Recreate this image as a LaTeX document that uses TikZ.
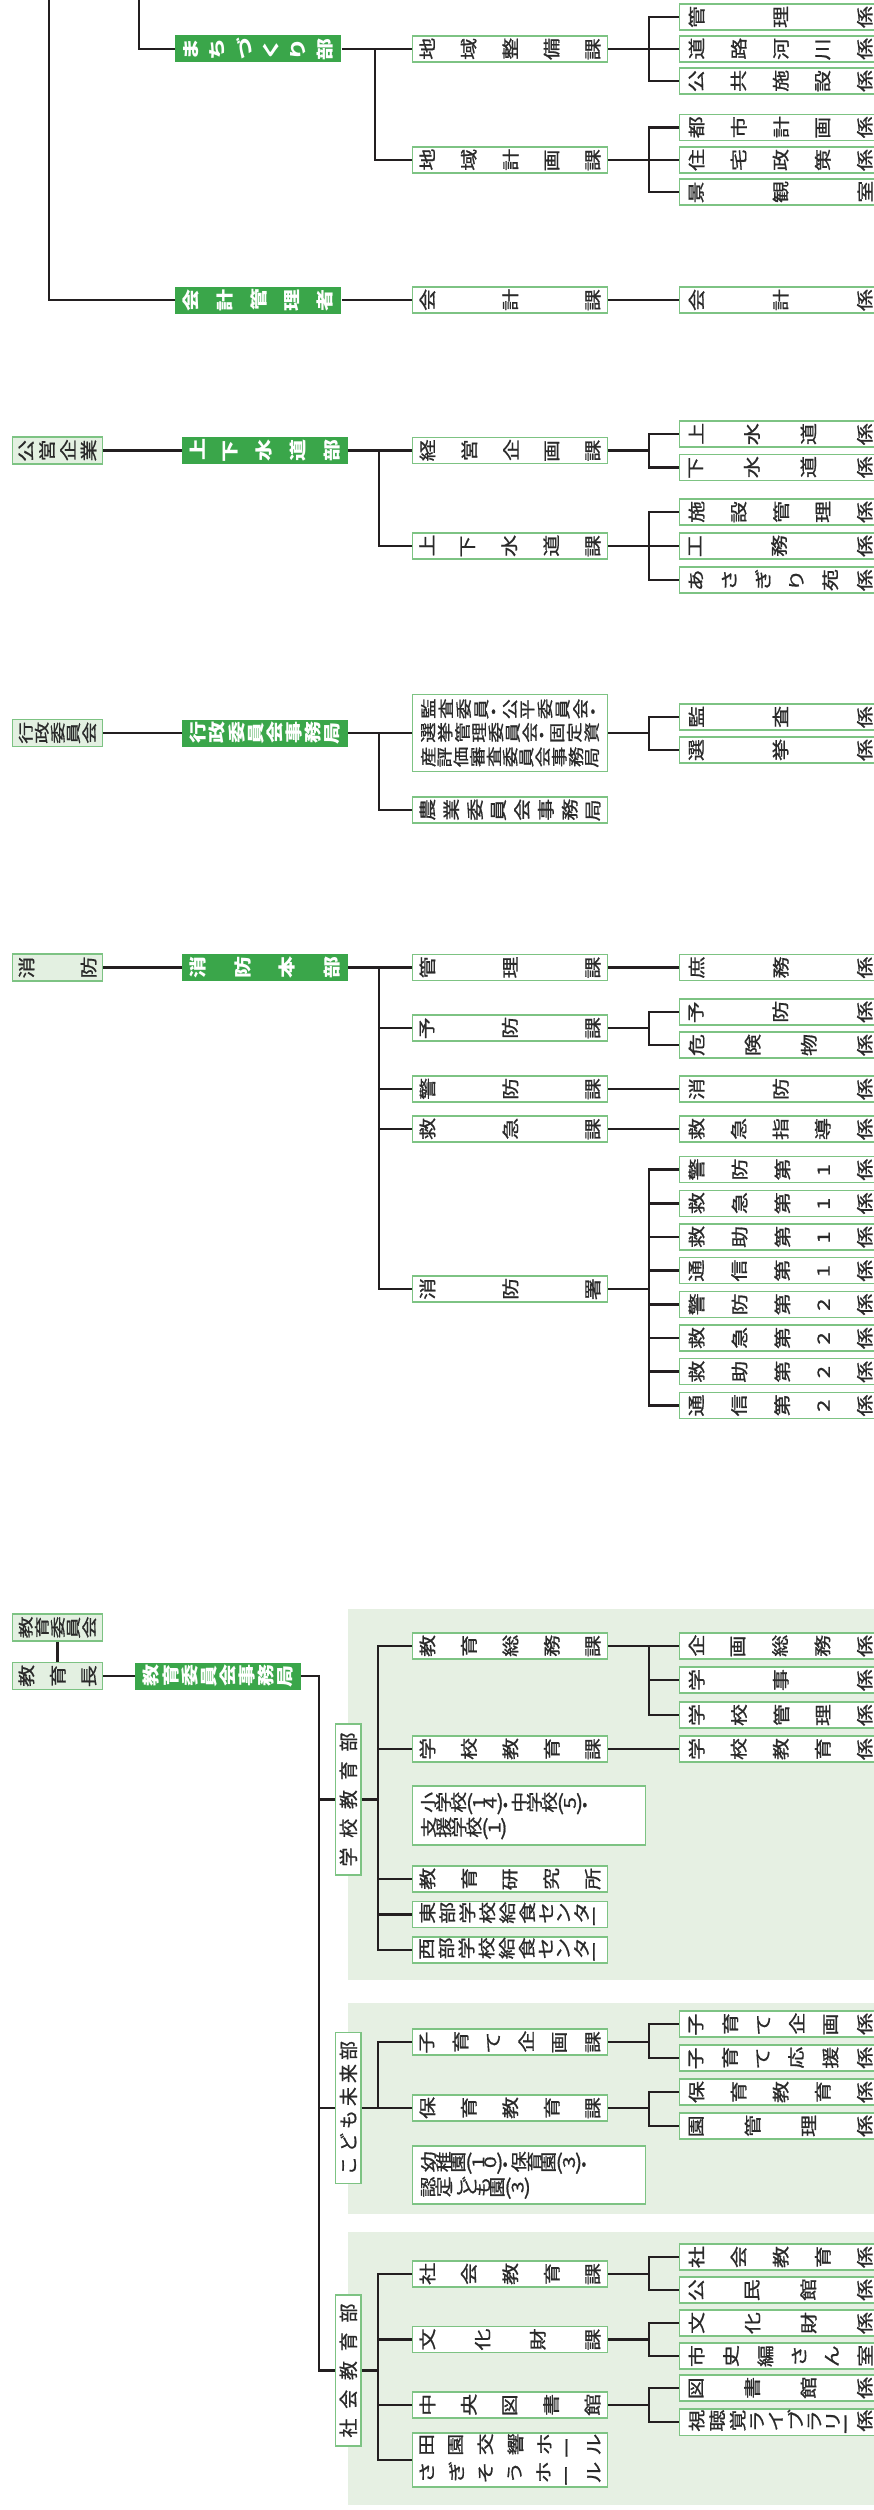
\documentclass[tikz,border=0pt]{standalone}
\usepackage{fontspec}
\usepackage{graphicx}
\setmainfont{Noto Sans CJK JP}
\newfontfamily\jpmed{Noto Sans CJK JP}[FakeBold=0.8]
\definecolor{linec}{HTML}{231F20}
\definecolor{boxg}{HTML}{7DC383}
\definecolor{deptg}{HTML}{3AA64A}
\definecolor{lightg}{HTML}{E3F0E1}
\definecolor{panelg}{HTML}{E6F0E3}
\definecolor{txtc}{HTML}{2A2A2A}
\ExplSyntaxOn
\bool_new:N \l__rs_first_bool
\cs_new_protected:Npn \__rs_glyph:n #1
  { \tl_if_in:nnTF { () } {#1} {#1} { \scalebox{0.78}[1]{\rotatebox[origin=c]{90}{#1}} } }
\cs_new_protected:Npn \__rs_spread:nnN #1 #2 #3
  {
    \makebox[#1][s]
      {
        \bool_set_true:N \l__rs_first_bool
        \tl_map_inline:nn {#2}
          {
            \bool_if:NF \l__rs_first_bool { \hfill }
            \bool_set_false:N \l__rs_first_bool
            #3 {##1}
          }
      }
  }
\NewDocumentCommand \sptext { m m } { \__rs_spread:nnN {#1} {#2} \__rs_glyph:n }
\NewDocumentCommand \spup { m m } { \__rs_spread:nnN {#1} {#2} \use:n }
\NewDocumentCommand \rtext { m } { \tl_map_inline:nn {#1} { \__rs_glyph:n {##1} } }
\ExplSyntaxOff
\newcommand{\katx}[1]{\sptext{181pt}{#1}}
\newcommand{\kktx}[1]{\sptext{184pt}{#1}}
\newcommand{\butx}[1]{\sptext{150pt}{#1}}
\newcommand{\tptx}[1]{\sptext{78pt}{#1}}
\newcommand{\tpcx}[1]{\scalebox{0.88}[1]{\sptext{88pt}{#1}}}
\tikzset{
  ln/.style={draw=linec, line width=2.6pt},
  box/.style={draw=boxg, line width=1.3pt, fill=white, inner sep=0pt, text=txtc, font=\jpmed\fontsize{22}{22}\selectfont},
  ka/.style={box, minimum width=195pt, minimum height=26pt},
  kk/.style={box, minimum width=202pt, minimum height=26pt, anchor=west},
  bu/.style={fill=deptg, text=white, inner sep=0pt, minimum width=166pt, minimum height=27pt, font=\fontsize{22}{22}\selectfont\bfseries},
  tp/.style={box, fill=lightg, minimum width=90pt, minimum height=27pt},
  dv/.style={box, rotate=90, minimum width=151pt, minimum height=25.6pt, font=\jpmed\fontsize{19}{20}\selectfont},
  multi/.style={box, align=left, text width=216pt, minimum width=233pt, font=\jpmed\fontsize{21}{25}\selectfont},
}
\begin{document}
\begin{tikzpicture}[x=1pt,y=-1pt]
\useasboundingbox (0,0) rectangle (874,2510);
\clip (0,0) rectangle (874,2510);
% panels
\fill[panelg] (348,1609) rectangle (890,1980);
\fill[panelg] (348,2003) rectangle (890,2214);
\fill[panelg] (348,2232) rectangle (890,2505);
% branch coordinates
\coordinate (inA) at (49,-5);
\coordinate (inB) at (139,-5);
\coordinate (brA) at (375,0);
\coordinate (brB) at (379,0);
\coordinate (brK) at (649,0);
\coordinate (brE) at (319,0);
\coordinate (brF) at (378,0);
% ---------- section A
\node[bu] (machi) at (258.3,49) {\butx{まちづくり部}};
\node[bu] (kaikeikanri) at (258.3,300) {\butx{会計管理者}};
\node[ka] (seibi) at (510,49) {\katx{地域整備課}};
\node[ka] (keikaku) at (510,160) {\katx{地域計画課}};
\node[ka] (kaikeika) at (510,300) {\katx{会計課}};
\node[kk] (a1) at (679,17) {\kktx{管理係}};
\node[kk] (a2) at (679,49) {\kktx{道路河川係}};
\node[kk] (a3) at (679,81) {\kktx{公共施設係}};
\node[kk] (a4) at (679,127.5) {\kktx{都市計画係}};
\node[kk] (a5) at (679,160) {\kktx{住宅政策係}};
\node[kk] (a6) at (679,192) {\kktx{景観室}};
\node[kk] (a7) at (679,300) {\kktx{会計係}};
\draw[ln] (inB) |- (machi.west);
\draw[ln] (inA) |- (kaikeikanri.west);
\draw[ln] (machi.east) -- (seibi.west);
\draw[ln] (machi.east -| brA) |- (keikaku.west);
\draw[ln] (seibi.east) -- (a2.west);
\draw[ln] (a1.west) -| (brK |- a3.west) -- (a3.west);
\draw[ln] (keikaku.east) -- (a5.west);
\draw[ln] (a4.west) -| (brK |- a6.west) -- (a6.west);
\draw[ln] (kaikeikanri.east) -- (kaikeika.west);
\draw[ln] (kaikeika.east) -- (a7.west);
% ---------- section B
\node[tp] (koei) at (57.5,450.5) {\tptx{公営企業}};
\node[bu] (jogebu) at (265,450.5) {\butx{上下水道部}};
\node[ka] (keiei) at (510,450.5) {\katx{経営企画課}};
\node[ka] (jogeka) at (510,546) {\katx{上下水道課}};
\node[kk] (b1) at (679,434) {\kktx{上水道係}};
\node[kk] (b2) at (679,467.5) {\kktx{下水道係}};
\node[kk] (b3) at (679,512) {\kktx{施設管理係}};
\node[kk] (b4) at (679,546) {\kktx{工務係}};
\node[kk] (b5) at (679,580) {\kktx{あさぎり苑係}};
\draw[ln] (koei.east) -- (jogebu.west);
\draw[ln] (jogebu.east) -- (keiei.west);
\draw[ln] (jogebu.east -| brB) |- (jogeka.west);
\draw[ln] (keiei.east) -- (keiei.east -| brK);
\draw[ln] (b1.west) -| (brK |- b2.west) -- (b2.west);
\draw[ln] (jogeka.east) -- (b4.west);
\draw[ln] (b3.west) -| (brK |- b5.west) -- (b5.west);
% ---------- section C
\node[tp] (gyosei) at (57.5,733) {\tpcx{行政委員会}};
\node[bu] (gyoseijimu) at (265,733) {\butx{行政委員会事務局}};
\node[ka, minimum height=77pt, align=center, font=\jpmed\fontsize{20.5}{23.5}\selectfont] (kansa) at (510,733)
  {\sptext{178pt}{監査委員・公平委員会・}\\\sptext{178pt}{選挙管理委員会・固定資}\\\sptext{178pt}{産評価審査委員会事務局}};
\node[ka] (nogyo) at (510,810) {\katx{農業委員会事務局}};
\node[kk] (c1) at (679,717) {\kktx{監査係}};
\node[kk] (c2) at (679,750) {\kktx{選挙係}};
\draw[ln] (gyosei.east) -- (gyoseijimu.west);
\draw[ln] (gyoseijimu.east) -- (kansa.west);
\draw[ln] (gyoseijimu.east -| brB) |- (nogyo.west);
\draw[ln] (kansa.east) -- (kansa.east -| brK);
\draw[ln] (c1.west) -| (brK |- c2.west) -- (c2.west);
% ---------- section D
\node[tp] (shobo) at (57.5,967.5) {\tptx{消防}};
\node[bu] (honbu) at (265,967.5) {\butx{消防本部}};
\node[ka] (d_kanri) at (510,967.5) {\katx{管理課}};
\node[ka] (d_yobo) at (510,1028) {\katx{予防課}};
\node[ka] (d_keibo) at (510,1089) {\katx{警防課}};
\node[ka] (d_kyukyu) at (510,1129) {\katx{救急課}};
\node[ka] (d_sho) at (510,1289) {\katx{消防署}};
\node[kk] (d1) at (679,967.5) {\kktx{庶務係}};
\node[kk] (d2) at (679,1012) {\kktx{予防係}};
\node[kk] (d3) at (679,1045) {\kktx{危険物係}};
\node[kk] (d4) at (679,1089) {\kktx{消防係}};
\node[kk] (d5) at (679,1129) {\kktx{救急指導係}};
\node[kk] (s1) at (679,1169.5) {\kktx{警防第1係}};
\node[kk] (s2) at (679,1203.2) {\kktx{救急第1係}};
\node[kk] (s3) at (679,1236.9) {\kktx{救助第1係}};
\node[kk] (s4) at (679,1270.6) {\kktx{通信第1係}};
\node[kk] (s5) at (679,1304.3) {\kktx{警防第2係}};
\node[kk] (s6) at (679,1338) {\kktx{救急第2係}};
\node[kk] (s7) at (679,1371.7) {\kktx{救助第2係}};
\node[kk] (s8) at (679,1405.4) {\kktx{通信第2係}};
\draw[ln] (shobo.east) -- (honbu.west);
\draw[ln] (honbu.east) -- (d_kanri.west);
\draw[ln] (honbu.east -| brB) |- (d_sho.west);
\draw[ln] (brB |- d_yobo.west) -- (d_yobo.west);
\draw[ln] (brB |- d_keibo.west) -- (d_keibo.west);
\draw[ln] (brB |- d_kyukyu.west) -- (d_kyukyu.west);
\draw[ln] (d_kanri.east) -- (d1.west);
\draw[ln] (d_yobo.east) -- (d_yobo.east -| brK);
\draw[ln] (d2.west) -| (brK |- d3.west) -- (d3.west);
\draw[ln] (d_keibo.east) -- (d4.west);
\draw[ln] (d_kyukyu.east) -- (d5.west);
\draw[ln] (d_sho.east) -- (d_sho.east -| brK);
\draw[ln] (s1.west) -| (brK |- s8.west) -- (s8.west);
\foreach \s in {s2,s3,s4,s5,s6,s7} { \draw[ln] (brK |- \s.west) -- (\s.west); }
% ---------- section E
\node[tp] (iinkai) at (57.5,1627.5) {\tpcx{教育委員会}};
\node[tp] (kyoikucho) at (57.5,1676) {\tptx{教育長}};
\node[bu, minimum width=166pt] (edujimu) at (218,1676) {\butx{教育委員会事務局}};
\node[dv] (gakkobu) at (348.3,1799.5) {\spup{134pt}{学校教育部}};
\node[dv] (kodomobu) at (348.3,2108) {\spup{134pt}{こども未来部}};
\node[dv] (shakaibu) at (348.3,2370.5) {\spup{134pt}{社会教育部}};
\draw[ln] (iinkai.south) -- (kyoikucho.north);
\draw[ln] (kyoikucho.east) -- (edujimu.west);
\draw[ln] (edujimu.east) -| (brE |- shakaibu.north) -- (shakaibu.north);
\draw[ln] (brE |- gakkobu.north) -- (gakkobu.north);
\draw[ln] (brE |- kodomobu.north) -- (kodomobu.north);
% school education
\node[ka] (soumu) at (510,1646) {\katx{教育総務課}};
\node[ka] (gkyoiku) at (510,1749) {\katx{学校教育課}};
\node[multi, minimum height=59pt] (schools) at (529,1815.5) {\rtext{小学校(14)・中学校(5)・}\\\rtext{支援学校(1)}};
\node[ka] (kenkyu) at (510,1879) {\katx{教育研究所}};
\node[ka] (tobu) at (510,1914.5) {\katx{東部学校給食センター}};
\node[ka] (seibu) at (510,1950) {\katx{西部学校給食センター}};
\node[kk] (e1) at (679,1646) {\kktx{企画総務係}};
\node[kk] (e2) at (679,1680) {\kktx{学事係}};
\node[kk] (e3) at (679,1715) {\kktx{学校管理係}};
\node[kk] (e4) at (679,1749) {\kktx{学校教育係}};
\draw[ln] (gakkobu.south) -- (brF |- gakkobu.south);
\draw[ln] (soumu.west) -| (brF |- seibu.west) -- (seibu.west);
\draw[ln] (brF |- gkyoiku.west) -- (gkyoiku.west);
\draw[ln] (brF |- kenkyu.west) -- (kenkyu.west);
\draw[ln] (brF |- tobu.west) -- (tobu.west);
\draw[ln] (soumu.east) -- (e1.west);
\draw[ln] (soumu.east -| brK) |- (e3.west);
\draw[ln] (brK |- e2.west) -- (e2.west);
\draw[ln] (gkyoiku.east) -- (e4.west);
% kodomo
\node[ka] (kosodate) at (510,2042) {\katx{子育て企画課}};
\node[ka] (hoiku) at (510,2108) {\katx{保育教育課}};
\node[multi, minimum height=58pt] (youchien) at (529,2175) {\rtext{幼稚園(10)・保育園(3)・}\\\rtext{認定こども園(3)}};
\node[kk] (f1) at (679,2024) {\kktx{子育て企画係}};
\node[kk] (f2) at (679,2058) {\kktx{子育て応援係}};
\node[kk] (f3) at (679,2092) {\kktx{保育教育係}};
\node[kk] (f4) at (679,2126) {\kktx{園管理係}};
\draw[ln] (kodomobu.south) -- (hoiku.west);
\draw[ln] (kosodate.west) -| (brF |- hoiku.west);
\draw[ln] (kosodate.east) -- (kosodate.east -| brK);
\draw[ln] (f1.west) -| (brK |- f2.west) -- (f2.west);
\draw[ln] (hoiku.east) -- (hoiku.east -| brK);
\draw[ln] (f3.west) -| (brK |- f4.west) -- (f4.west);
% shakai
\node[ka] (shakaika) at (510,2274) {\katx{社会教育課}};
\node[ka] (bunkazai) at (510,2339.5) {\katx{文化財課}};
\node[ka] (toshokan) at (510,2405) {\katx{中央図書館}};
\node[ka, minimum height=54pt, align=center, font=\jpmed\fontsize{22}{28}\selectfont] (denen) at (510,2460)
  {\sptext{181pt}{田園交響ホール}\\\sptext{181pt}{さぎそうホール}};
\node[kk] (g1) at (679,2257) {\kktx{社会教育係}};
\node[kk] (g2) at (679,2290) {\kktx{公民館係}};
\node[kk] (g3) at (679,2323) {\kktx{文化財係}};
\node[kk] (g4) at (679,2356) {\kktx{市史編さん室}};
\node[kk] (g5) at (679,2388) {\kktx{図書館係}};
\node[kk] (g6) at (679,2422) {\kktx{視聴覚ライブラリー係}};
\draw[ln] (shakaibu.south) -- (brF |- shakaibu.south);
\draw[ln] (shakaika.west) -| (brF |- denen.west) -- (denen.west);
\draw[ln] (brF |- bunkazai.west) -- (bunkazai.west);
\draw[ln] (brF |- toshokan.west) -- (toshokan.west);
\draw[ln] (shakaika.east) -- (shakaika.east -| brK);
\draw[ln] (g1.west) -| (brK |- g2.west) -- (g2.west);
\draw[ln] (bunkazai.east) -- (bunkazai.east -| brK);
\draw[ln] (g3.west) -| (brK |- g4.west) -- (g4.west);
\draw[ln] (toshokan.east) -- (toshokan.east -| brK);
\draw[ln] (g5.west) -| (brK |- g6.west) -- (g6.west);
\end{tikzpicture}
\end{document}
